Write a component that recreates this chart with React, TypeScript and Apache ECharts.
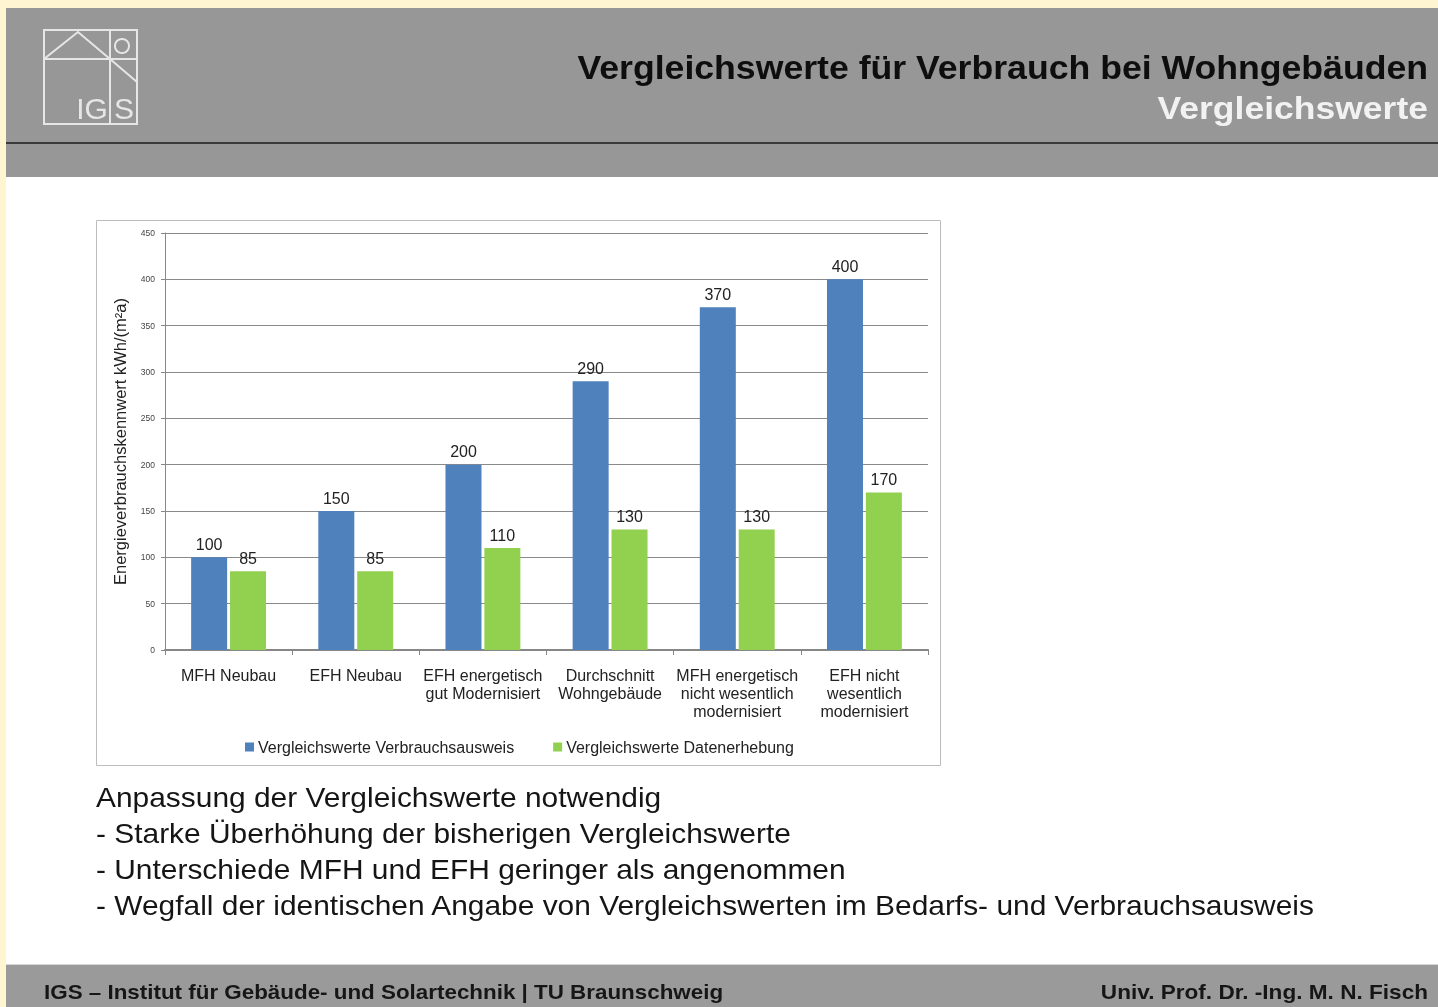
import React, { useEffect, useRef } from "react";
import * as echarts from "echarts";

const categories = [
  "MFH Neubau",
  "EFH Neubau",
  "EFH energetisch\ngut Modernisiert",
  "Durchschnitt\nWohngebäude",
  "MFH energetisch\nnicht wesentlich\nmodernisiert",
  "EFH nicht\nwesentlich\nmodernisiert",
];
const verbrauchsausweis = [100, 150, 200, 290, 370, 400];
const datenerhebung = [85, 85, 110, 130, 130, 170];
const seriesNames = ["Vergleichswerte Verbrauchsausweis", "Vergleichswerte Datenerhebung"];
const yAxisName = "Energieverbrauchskennwert kWh/(m²a)";
const titleText = "Vergleichswerte für Verbrauch bei Wohngebäuden";
const subtitleText = "Vergleichswerte";
const bulletLines = [
  "Anpassung der Vergleichswerte notwendig",
  "- Starke Überhöhung der bisherigen Vergleichswerte",
  "- Unterschiede MFH und EFH geringer als angenommen",
  "- Wegfall der identischen Angabe von Vergleichswerten im Bedarfs- und Verbrauchsausweis",
];
const footerLeft = "IGS – Institut für Gebäude- und Solartechnik | TU Braunschweig";
const footerRight = "Univ. Prof. Dr. -Ing. M. N. Fisch";

const FONT = "'Liberation Sans', Arial, sans-serif";

function txt(x: number, y: number, text: string, font: string, fill: string, align: string, sx: number) {
  return {
    type: "text",
    z: -7,
    x,
    y,
    scaleX: sx,
    style: { x: 0, y: 0, text, font, fill, textAlign: align, textVerticalAlign: "middle" },
  };
}

export default function App() {
  const ref = useRef<HTMLDivElement>(null);
  useEffect(() => {
    if (!ref.current) return;
    const chart = echarts.init(ref.current, null, { renderer: "svg" });
    const logoStroke = { stroke: "#e6e6e6", lineWidth: 2, fill: null as any };
    const graphic: any[] = [
      { type: "rect", z: -10, shape: { x: 0, y: 0, width: 1438, height: 1007 }, style: { fill: "#fff5d2" } },
      { type: "rect", z: -9, shape: { x: 6, y: 177, width: 1432, height: 788 }, style: { fill: "#ffffff" } },
      { type: "rect", z: -9, shape: { x: 6, y: 8, width: 1432, height: 169 }, style: { fill: "#979797" } },
      { type: "rect", z: -8, shape: { x: 6, y: 142, width: 1432, height: 2 }, style: { fill: "#3a3a3a" } },
      { type: "rect", z: -9, shape: { x: 6, y: 965, width: 1432, height: 42 }, style: { fill: "#9a9a9a" } },
      { type: "rect", z: -8, shape: { x: 6, y: 964, width: 1432, height: 1 }, style: { fill: "#d6d6d6" } },
      // logo
      { type: "rect", z: -7, shape: { x: 44, y: 30, width: 93, height: 94 }, style: logoStroke },
      { type: "line", z: -7, shape: { x1: 110, y1: 30, x2: 110, y2: 124 }, style: logoStroke },
      { type: "line", z: -7, shape: { x1: 44, y1: 59, x2: 137, y2: 59 }, style: logoStroke },
      { type: "polyline", z: -7, shape: { points: [[44, 59], [78, 32], [110, 59], [137, 82]] }, style: logoStroke },
      { type: "circle", z: -7, shape: { cx: 122, cy: 46, r: 7 }, style: logoStroke },
      { type: "text", z: -7, style: { x: 92, y: 123, text: "IG", font: `30px ${FONT}`, fill: "#e6e6e6", textAlign: "center", textVerticalAlign: "bottom" } },
      { type: "text", z: -7, style: { x: 124, y: 123, text: "S", font: `30px ${FONT}`, fill: "#e6e6e6", textAlign: "center", textVerticalAlign: "bottom" } },
      // titles
      txt(1428, 67, titleText, `bold 33px ${FONT}`, "#0e0e0e", "right", 1.08),
      txt(1428, 108, subtitleText, `bold 32px ${FONT}`, "#f2f2f2", "right", 1.11),
      // chart frame
      { type: "rect", z: -6, shape: { x: 96.5, y: 220.5, width: 844, height: 545 }, style: { fill: "#ffffff", stroke: "#bdbdbd", lineWidth: 1 } },
      // footer
      txt(44, 992, footerLeft, `bold 20px ${FONT}`, "#161616", "left", 1.12),
      txt(1428, 992, footerRight, `bold 20px ${FONT}`, "#161616", "right", 1.13),
    ];
    bulletLines.forEach((t, i) => {
      graphic.push(txt(96, 798 + i * 35.7, t, `27px ${FONT}`, "#151515", "left", 1.108));
    });

    chart.setOption({
      animation: false,
      graphic,
      grid: { left: 165, top: 233, width: 763, height: 417, containLabel: false },
      legend: {
        left: 240,
        top: 734,
        itemWidth: 9,
        itemHeight: 9,
        itemGap: 39,
        icon: "rect",
        textStyle: { fontFamily: FONT, fontSize: 16, color: "#222", padding: [0, 0, 0, -1] },
        data: seriesNames,
      },
      xAxis: {
        type: "category",
        data: categories,
        z: 5,
        axisLine: { lineStyle: { color: "#878787", width: 2 } },
        axisTick: { show: true, length: 5, lineStyle: { color: "#878787" } },
        axisLabel: { fontFamily: FONT, fontSize: 16, color: "#222", lineHeight: 18, margin: 16, interval: 0 },
      },
      yAxis: {
        type: "value",
        min: 0,
        max: 450,
        interval: 50,
        z: 5,
        name: yAxisName,
        nameLocation: "middle",
        nameGap: 37,
        nameRotate: 90,
        nameTextStyle: { fontFamily: FONT, fontSize: 16.5, color: "#222" },
        axisLine: { show: true, lineStyle: { color: "#878787", width: 1 } },
        axisTick: { show: true, length: 4, lineStyle: { color: "#878787" } },
        axisLabel: { fontFamily: FONT, fontSize: 8.5, color: "#444", margin: 10 },
        splitLine: { lineStyle: { color: "#8a8a8a", width: 1 } },
      },
      series: [
        {
          name: seriesNames[0],
          type: "bar",
          z: 6,
          data: verbrauchsausweis,
          barWidth: 36,
          barGap: "8%",
          itemStyle: { color: "#4f81bd" },
          label: { show: true, position: "top", distance: 5, fontFamily: FONT, fontSize: 16, color: "#222" },
        },
        {
          name: seriesNames[1],
          type: "bar",
          z: 6,
          data: datenerhebung,
          barWidth: 36,
          barGap: "8%",
          itemStyle: { color: "#92d050" },
          label: { show: true, position: "top", distance: 5, fontFamily: FONT, fontSize: 16, color: "#222" },
        },
      ],
    });
    return () => chart.dispose();
  }, []);
  return (
    <div
      ref={ref}
      style={{ position: "fixed", left: 0, top: 0, width: 1438, height: 1007 }}
    />
  );
}
